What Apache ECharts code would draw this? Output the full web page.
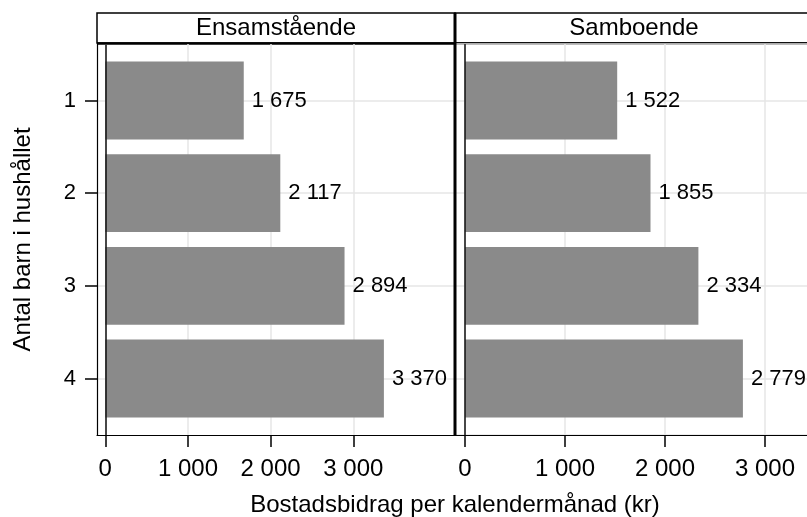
<!DOCTYPE html>
<html><head><meta charset="utf-8">
<script src="https://cdn.jsdelivr.net/npm/echarts@6/dist/echarts.min.js"></script>
<style>html,body{margin:0;padding:0;background:#fff}#c{width:807px;height:517px}</style>
</head><body><div id="c"></div>
<script>
const categories = ['1', '2', '3', '4'];
const panelTitles = ['Ensamstående', 'Samboende'];
const ensamstaende = [1675, 2117, 2894, 3370];
const samboende = [1522, 1855, 2334, 2779];
const xTicks = [0, 1000, 2000, 3000];
const yTitle = 'Antal barn i hushållet';
const xTitle = 'Bostadsbidrag per kalendermånad (kr)';

const FONT = '"Liberation Sans", Arial, sans-serif';
const FS = 24;
const FS_SMALL = 22;
const fmt = n => String(n).replace(/\B(?=(\d{3})+(?!\d))/g, ' ');
const HALF = 0.42;
const yPos = categories.map((c, i) => i + 1);
const toData = vals => vals.map((v, i) => [v, yPos[i]]);

function renderItem(params, api) {
  const v = api.value(0), c = api.value(1);
  const a = api.coord([0, c - HALF]);
  const b = api.coord([v, c + HALF]);
  const m = api.coord([v, c]);
  return {type: 'group', children: [
    {type: 'rect', shape: {x: a[0], y: Math.min(a[1], b[1]), width: b[0] - a[0], height: Math.abs(b[1] - a[1])},
     style: {fill: '#8a8a8a'}},
    {type: 'text', x: m[0] + 8, y: m[1],
     style: {text: fmt(v), fill: '#000', fontSize: FS_SMALL, fontFamily: FONT, align: 'left', verticalAlign: 'middle'}}
  ]};
}

const grid = {color: '#e6e6e6', width: 1.5};
function xAx(i, max) {
  return {gridIndex: i, type: 'value', min: -100, max: max,
    axisLine: {show: true, onZero: false, lineStyle: {color: '#000', width: 1.2}},
    axisTick: {show: true, length: 12, customValues: xTicks, lineStyle: {color: '#000', width: 1.5}},
    axisLabel: {customValues: xTicks, formatter: fmt, fontSize: FS, fontFamily: FONT, color: '#000', margin: 22},
    splitLine: {show: true, lineStyle: grid}};
}
function yAx(i) {
  const base = {gridIndex: i, type: 'value', inverse: true, min: 0.39, max: 4.61,
    splitLine: {show: true, lineStyle: grid}};
  if (i === 0) {
    return Object.assign(base, {
      axisLine: {show: true, onZero: false, lineStyle: {color: '#000', width: 1.2}},
      axisTick: {show: true, length: 12, customValues: yPos, lineStyle: {color: '#000', width: 1.5}},
      axisLabel: {customValues: yPos, formatter: v => categories[Math.round(v) - 1], fontSize: FS_SMALL, fontFamily: FONT, color: '#000', margin: 21},
      name: yTitle, nameLocation: 'middle', nameGap: 62,
      nameTextStyle: {fontSize: FS, fontFamily: FONT, color: '#000'}
    });
  }
  return Object.assign(base, {axisLine: {show: false}, axisTick: {show: false}, axisLabel: {show: false}});
}
function series(i, vals) {
  return {type: 'custom', xAxisIndex: i, yAxisIndex: i, data: toData(vals), renderItem: renderItem,
    markLine: {silent: true, symbol: ['none', 'none'], label: {show: false},
      lineStyle: {color: '#111', width: 1.5, type: 'solid'}, data: [{xAxis: 0}]}};
}

const chart = echarts.init(document.getElementById('c'), null, {renderer: 'canvas'});
chart.setOption({
  animation: false,
  backgroundColor: '#fff',
  grid: [
    {left: 97, top: 44, width: 358, height: 391, containLabel: false, outerBoundsMode: 'none'},
    {left: 455, top: 44, width: 358, height: 391, containLabel: false, outerBoundsMode: 'none'}
  ],
  xAxis: [xAx(0, 4230), xAx(1, 3480)],
  yAxis: [yAx(0), yAx(1)],
  series: [series(0, ensamstaende), series(1, samboende)],
  graphic: [
    {type: 'rect', shape: {x: 97, y: 13, width: 358, height: 30}, style: {fill: '#fff', stroke: '#000', lineWidth: 1.5}},
    {type: 'rect', shape: {x: 455, y: 13, width: 360, height: 30}, style: {fill: '#fff', stroke: '#000', lineWidth: 1.5}},
    {type: 'line', shape: {x1: 97, y1: 43.5, x2: 815, y2: 43.5}, style: {stroke: '#000', lineWidth: 2.5}},
    {type: 'line', shape: {x1: 455, y1: 13, x2: 455, y2: 435}, style: {stroke: '#000', lineWidth: 3}, z: 10},
    {type: 'text', x: 276, y: 28, style: {text: panelTitles[0], fontSize: FS, fontFamily: FONT, fill: '#000', align: 'center', verticalAlign: 'middle'}},
    {type: 'text', x: 634, y: 28, style: {text: panelTitles[1], fontSize: FS, fontFamily: FONT, fill: '#000', align: 'center', verticalAlign: 'middle'}},
    {type: 'text', x: 455, y: 505, style: {text: xTitle, fontSize: FS, fontFamily: FONT, fill: '#000', align: 'center', verticalAlign: 'middle'}}
  ]
});
</script>
</body></html>
